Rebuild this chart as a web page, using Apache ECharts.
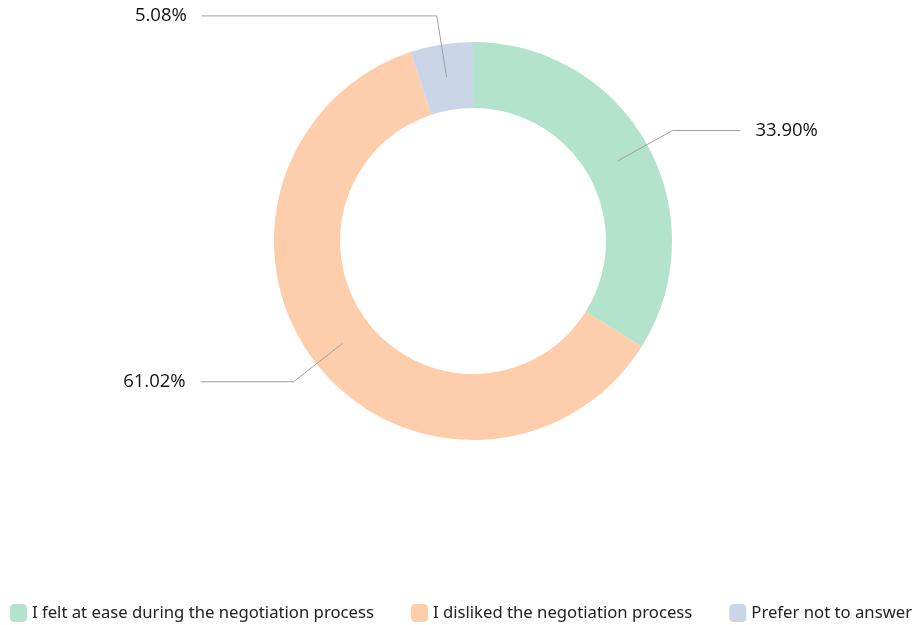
<!DOCTYPE html>
<html>
<head>
<meta charset="utf-8">
<script src="https://cdn.jsdelivr.net/npm/echarts@6/dist/echarts.min.js"></script>
<style>html,body{margin:0;padding:0;background:#fff}#c{width:922px;height:625px}</style>
</head>
<body>
<div id="c"></div>
<script>
const categories = ['I felt at ease during the negotiation process', 'I disliked the negotiation process', 'Prefer not to answer'];
const values = [33.90, 61.02, 5.08];
const colors = ['#b3e2cd', '#fdcdac', '#cbd5e8'];
const labelLen2 = [68, 93, 235];

const chart = echarts.init(document.getElementById('c'));
const ringData = categories.map((n, i) => ({ name: n, value: values[i], itemStyle: { color: colors[i] } }));
const labelData = categories.map((n, i) => ({
  name: n, value: values[i],
  labelLine: { length: 62, length2: labelLen2[i] }
}));
chart.setOption({
  animation: false,
  legend: {
    bottom: -2,
    left: 'center',
    data: categories,
    icon: 'roundRect',
    itemWidth: 17,
    itemHeight: 18,
    itemGap: 37,
    textStyle: { fontFamily: 'Noto Sans', fontSize: 16.7, color: '#222' }
  },
  series: [
    {
      type: 'pie',
      center: [473, 241],
      radius: [133, 199],
      startAngle: 90,
      silent: true,
      label: { show: false },
      labelLine: { show: false },
      data: ringData
    },
    {
      type: 'pie',
      center: [473, 241],
      radius: [0, 166],
      startAngle: 90,
      silent: true,
      z: 5,
      itemStyle: { color: 'rgba(0,0,0,0)' },
      label: {
        show: true,
        formatter: p => p.value.toFixed(2) + '%',
        fontFamily: 'Open Sans',
        fontSize: 18.5,
        color: '#111',
        distanceToLabelLine: 15
      },
      labelLine: { show: true, lineStyle: { color: '#a0a0a0', width: 1 } },
      data: labelData
    }
  ]
});
</script>
</body>
</html>
